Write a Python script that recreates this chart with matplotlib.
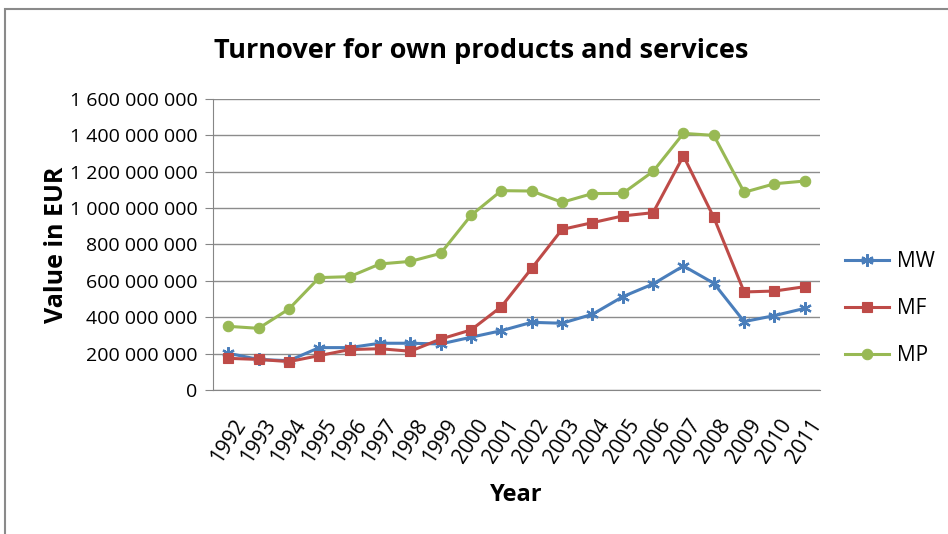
import matplotlib
matplotlib.use("Agg")
import matplotlib.pyplot as plt
from matplotlib.patches import Rectangle
from matplotlib.ticker import FuncFormatter

plt.rcParams["font.family"] = ["Open Sans", "DejaVu Sans"]

years = [str(y) for y in range(1992, 2012)]
mw = [202, 168, 161, 233, 233, 257, 257, 253, 290, 326,
      372, 367, 416, 513, 583, 682, 587, 376, 409, 449]
mf = [174, 168, 156, 189, 222, 227, 213, 280, 330, 458,
      669, 883, 920, 957, 975, 1287, 949, 539, 544, 568]
mp = [350, 339, 445, 618, 623, 693, 707, 751, 960, 1096,
      1094, 1032, 1080, 1081, 1202, 1411, 1400, 1087, 1134, 1149]

# values above are in millions of EUR
scale = 1e6
series = [
    ("MW", mw, "#4a7ebb", (6, 2, 0), 9),
    ("MF", mf, "#be4b48", "s", 7),
    ("MP", mp, "#98b954", "o", 7.5),
]

fig = plt.figure(figsize=(9.48, 5.34), dpi=100)
ax = fig.add_axes([0.2247, 0.2697, 0.6403, 0.5449])

x = list(range(len(years)))
for name, vals, col, mk, ms in series:
    ax.plot(x, [v * scale for v in vals], color=col, lw=2.2, marker=mk,
            markersize=ms, markeredgewidth=1.6 if name == "MW" else 0.8,
            markeredgecolor=col, label=name)

ax.set_xlim(-0.5, len(years) - 0.5)
ax.set_ylim(0, 1.6e9)
ax.set_yticks([i * 2e8 for i in range(9)])
ax.yaxis.set_major_formatter(FuncFormatter(lambda v, p: f"{int(v):,}".replace(",", " ")))
ax.set_xticks(x)
ax.set_xticklabels(years, rotation=57, ha="center", va="top", fontsize=15)
ax.tick_params(axis="y", labelsize=14, length=6, color="#868686", pad=5)
ax.tick_params(axis="x", length=0, pad=18)

ax.grid(axis="y", color="#8c8c8c", lw=1)
ax.set_axisbelow(True)
for s in ["top", "right"]:
    ax.spines[s].set_visible(False)
for s in ["left", "bottom"]:
    ax.spines[s].set_color("#868686")

ax.set_ylabel("Value in EUR", fontsize=18, fontweight="bold", labelpad=1)
ax.set_xlabel("Year", fontsize=17, fontweight="bold", labelpad=12)
fig.text(0.508, 0.905, "Turnover for own products and services",
         ha="center", va="center", fontsize=19.5, fontweight="bold")

ax.legend(loc="center left", bbox_to_anchor=(1.01, 0.28), frameon=False,
          fontsize=15, handlelength=2.1, labelspacing=1.25, handletextpad=0.4)

# chart area border (runs off the right and bottom edges)
fig.patches.append(Rectangle((5 / 948, -0.1), 1.2, 1 - 9 / 534 + 0.1,
                             transform=fig.transFigure, fill=False,
                             edgecolor="#8a8a8a", lw=1.5))

fig.savefig("out.png", dpi=100)
